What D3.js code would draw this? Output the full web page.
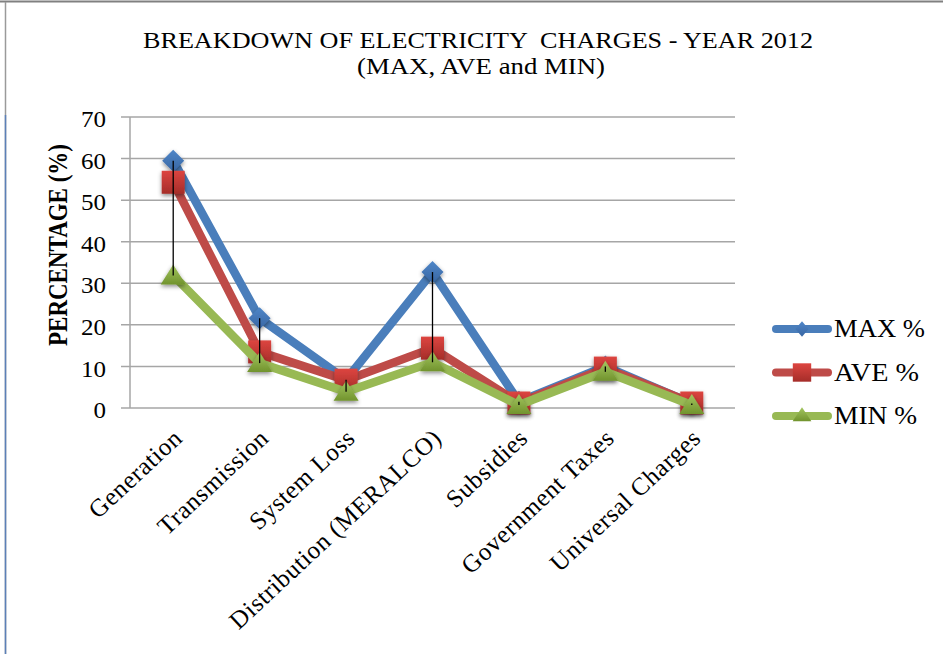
<!DOCTYPE html>
<html>
<head>
<meta charset="utf-8">
<script src="https://cdn.jsdelivr.net/npm/d3@7"></script>
<style>
  body { margin: 0; background: #fff; }
  svg text { font-family: "Liberation Serif", "DejaVu Serif", serif; fill: #000; }
</style>
</head>
<body>
<svg width="943" height="654"></svg>
<script>
// chart data
var categories = ["Generation", "Transmission", "System Loss", "Distribution (MERALCO)",
                  "Subsidies", "Government Taxes", "Universal Charges"];
var maxValues = [59.5, 21.6, 6.8, 32.7, 1.5, 10.0, 1.1];
var aveValues = [54.3, 13.5, 6.7, 14.4, 1.2, 9.6, 1.2];
var minValues = [31.9, 10.8, 3.9, 11.0, 0.7, 8.7, 0.7];
var yTicks = [0, 10, 20, 30, 40, 50, 60, 70];
var seriesNames = ["MAX %", "AVE %", "MIN %"];

var serif = "'Liberation Serif', 'DejaVu Serif', serif";

var svg = d3.select("svg"),
    margin = {top: 117, left: 130, right: 208, bottom: 246},
    width = 943 - margin.left - margin.right,
    height = 654 - margin.top - margin.bottom;

var defs = svg.append("defs");
function grad(id, c1, c2) {
  var gr = defs.append("linearGradient").attr("id", id)
    .attr("x1", 0).attr("y1", 0).attr("x2", 0).attr("y2", 1);
  gr.append("stop").attr("offset", "0%").attr("stop-color", c1);
  gr.append("stop").attr("offset", "100%").attr("stop-color", c2);
}
grad("gBlue", "#4f86c8", "#3866a3");
grad("gRed", "#dd4540", "#a52d29");
grad("gGreen", "#a3c660", "#71932d");
var shadow = defs.append("filter").attr("id", "shadow")
  .attr("x", "-50%").attr("y", "-50%").attr("width", "200%").attr("height", "200%");
shadow.append("feDropShadow").attr("dx", 0).attr("dy", 2).attr("stdDeviation", 2)
  .attr("flood-color", "#000").attr("flood-opacity", 0.45);

// frame
svg.append("line").attr("x1", 0).attr("x2", 943).attr("y1", 1.5).attr("y2", 1.5)
  .attr("stroke", "#808080").attr("stroke-width", 2);
svg.append("line").attr("x1", 5.5).attr("x2", 5.5).attr("y1", 2).attr("y2", 654)
  .attr("stroke", "#9a9a9a").attr("stroke-width", 1.5);
svg.append("line").attr("x1", 5.5).attr("x2", 5.5).attr("y1", 115).attr("y2", 654)
  .attr("stroke", "#5b80b8").attr("stroke-width", 1.5);

var g = svg.append("g").attr("transform", "translate(" + margin.left + "," + margin.top + ")");

var x = d3.scalePoint().domain(categories).range([0, width]).padding(0.5),
    y = d3.scaleLinear().domain([0, 70]).range([height, 0]);

// gridlines
g.append("g").selectAll("line").data(yTicks).enter().append("line")
  .attr("x1", -9).attr("x2", width)
  .attr("y1", function(d) { return y(d); }).attr("y2", function(d) { return y(d); })
  .attr("stroke", "#a6a6a6").attr("stroke-width", 1.5);
g.append("line").attr("x1", 0).attr("x2", 0).attr("y1", 0).attr("y2", height)
  .attr("stroke", "#a6a6a6").attr("stroke-width", 1.5);

// y axis labels
var yAxis = g.append("g")
  .call(d3.axisLeft(y).tickValues(yTicks).tickSize(0).tickPadding(24));
yAxis.select(".domain").remove();
yAxis.selectAll("text")
  .style("font-family", serif).attr("font-size", 23).attr("fill", "#000")
  .attr("dy", "0.42em")
  .attr("textLength", function(d) { return String(d).length * 12.5; })
  .attr("lengthAdjust", "spacingAndGlyphs");

// x axis labels
var xAxis = g.append("g").attr("transform", "translate(0," + height + ")")
  .call(d3.axisBottom(x).tickSize(0).tickPadding(0));
xAxis.select(".domain").remove();
xAxis.selectAll("text")
  .style("font-family", serif).attr("font-size", 25).attr("fill", "#000")
  .attr("text-anchor", "end").attr("dy", 0).attr("y", 0)
  .attr("letter-spacing", 0.6)
  .attr("transform", "translate(10,32) rotate(-43)");

var series = [
  {name: seriesNames[0], values: maxValues, color: "#4a7ebb", fill: "url(#gBlue)", shape: "diamond"},
  {name: seriesNames[1], values: aveValues, color: "#be4b48", fill: "url(#gRed)", shape: "square"},
  {name: seriesNames[2], values: minValues, color: "#98b954", fill: "url(#gGreen)", shape: "triangle"}
];

function markerPath(shape) {
  if (shape === "diamond") return "M0,-11L11,0L0,11L-11,0Z";
  if (shape === "square") return "M-11.5,-11.5H11.5V11.5H-11.5Z";
  return "M0,-11L12.5,9L-12.5,9Z";
}

var line = d3.line()
  .x(function(d, i) { return x(categories[i]); })
  .y(function(d) { return y(d); });

series.forEach(function(s) {
  g.append("path").datum(s.values)
    .attr("d", line)
    .attr("fill", "none")
    .attr("stroke", s.color)
    .attr("stroke-width", 8.5)
    .attr("stroke-linejoin", "round")
    .attr("stroke-linecap", "round");
  g.append("g").selectAll("path").data(s.values).enter().append("path")
    .attr("d", markerPath(s.shape))
    .attr("transform", function(d, i) { return "translate(" + x(categories[i]) + "," + y(d) + ")"; })
    .attr("fill", s.fill)
    .attr("filter", "url(#shadow)");
});

// high-low lines
g.append("g").selectAll("line").data(categories).enter().append("line")
  .attr("x1", function(d) { return x(d); }).attr("x2", function(d) { return x(d); })
  .attr("y1", function(d, i) { return y(maxValues[i]); })
  .attr("y2", function(d, i) { return y(minValues[i]); })
  .attr("stroke", "#000").attr("stroke-width", 1.3);

// title
svg.append("text").attr("x", 143).attr("y", 48)
  .style("font-family", serif).attr("font-size", 23.5)
  .attr("textLength", 670).attr("lengthAdjust", "spacingAndGlyphs")
  .style("white-space", "pre")
  .text("BREAKDOWN OF ELECTRICITY  CHARGES - YEAR 2012");
svg.append("text").attr("x", 357).attr("y", 74)
  .style("font-family", serif).attr("font-size", 22.5)
  .attr("textLength", 248).attr("lengthAdjust", "spacingAndGlyphs")
  .text("(MAX, AVE and MIN)");

// y title
svg.append("text")
  .attr("transform", "translate(67,245) rotate(-90) scale(1,1.15)")
  .attr("text-anchor", "middle")
  .style("font-family", serif).attr("font-size", 23).attr("font-weight", "bold")
  .text("PERCENTAGE (%)");

// legend
var legend = svg.append("g").attr("transform", "translate(773,329)");
var item = legend.selectAll("g").data(series).enter().append("g")
  .attr("transform", function(d, i) { return "translate(0," + (i * 43.5) + ")"; });
item.append("line").attr("x1", 3).attr("x2", 55).attr("y1", 0).attr("y2", 0)
  .attr("stroke", function(d) { return d.color; })
  .attr("stroke-width", 8).attr("stroke-linecap", "round");
item.append("path")
  .attr("d", function(d) { return markerPath(d.shape); })
  .attr("transform", function(d) {
    return d.shape === "diamond" ? "translate(29,0) scale(0.6,0.7)" :
           d.shape === "square" ? "translate(29,0) scale(0.8)" : "translate(29,-1) scale(0.75,0.7)";
  })
  .attr("fill", function(d) { return d.fill; });
item.append("text").attr("x", 61).attr("y", 8)
  .style("font-family", serif).attr("font-size", 25)
  .attr("textLength", function(d, i) { return [91, 85, 83][i]; })
  .attr("lengthAdjust", "spacingAndGlyphs")
  .text(function(d) { return d.name; });
</script>
</body>
</html>
